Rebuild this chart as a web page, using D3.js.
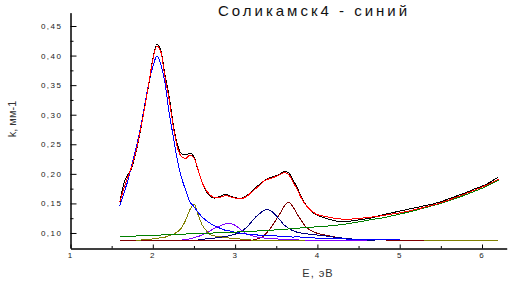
<!DOCTYPE html>
<html>
<head>
<meta charset="utf-8">
<script src="https://cdn.jsdelivr.net/npm/d3@7"></script>
<style>
body { margin: 0; background: #fff; }
text { font-family: "Liberation Sans", Arial, sans-serif; }
</style>
</head>
<body>
<svg width="508" height="282"></svg>
<script>
// photon energy grid, eV
const energy = [
  1.60, 1.65, 1.70, 1.75, 1.80, 1.85, 1.90, 1.95, 2.00, 2.05,
  2.10, 2.15, 2.20, 2.25, 2.30, 2.35, 2.40, 2.45, 2.50, 2.55,
  2.60, 2.65, 2.70, 2.75, 2.80, 2.85, 2.90, 2.95, 3.00, 3.05,
  3.10, 3.15, 3.20, 3.25, 3.30, 3.35, 3.40, 3.45, 3.50, 3.55,
  3.60, 3.65, 3.70, 3.75, 3.80, 3.85, 3.90, 3.95, 4.00,
  4.1, 4.2, 4.3, 4.4, 4.5, 4.6, 4.7, 4.8, 4.9, 5.0,
  5.1, 5.2, 5.3, 5.4, 5.5, 5.6, 5.7, 5.8, 5.9, 6.0,
  6.1, 6.2
];

// measured absorption (black)
const measured = [
  0.152, 0.185, 0.199, 0.212, 0.239, 0.273, 0.312, 0.350, 0.394, 0.419,
  0.407, 0.366, 0.330, 0.282, 0.249, 0.234, 0.232, 0.235, 0.229, 0.206,
  0.186, 0.170, 0.162, 0.159, 0.161, 0.164, 0.165, 0.162, 0.160, 0.158,
  0.160, 0.164, 0.170, 0.177, 0.182, 0.188, 0.192, 0.195, 0.197, 0.200,
  0.204, 0.202, 0.190, 0.178, 0.162, 0.150, 0.141, 0.134, 0.130,
  0.125, 0.121, 0.119, 0.120, 0.122, 0.124, 0.127, 0.131, 0.134, 0.137,
  0.140, 0.143, 0.146, 0.149, 0.153, 0.158, 0.163, 0.168, 0.174, 0.179,
  0.186, 0.195
];

// sum of components (red)
const fit = [
  0.153, 0.176, 0.196, 0.215, 0.241, 0.274, 0.311, 0.352, 0.393, 0.416,
  0.405, 0.362, 0.325, 0.279, 0.244, 0.229, 0.226, 0.232, 0.227, 0.207,
  0.185, 0.172, 0.164, 0.160, 0.160, 0.162, 0.163, 0.161, 0.159, 0.158,
  0.159, 0.163, 0.169, 0.175, 0.181, 0.188, 0.191, 0.193, 0.196, 0.199,
  0.202, 0.199, 0.187, 0.175, 0.160, 0.149, 0.141, 0.135, 0.131,
  0.128, 0.125, 0.1235, 0.1235, 0.1245, 0.126, 0.1275, 0.1295, 0.132, 0.134,
  0.1368, 0.140, 0.1435, 0.147, 0.151, 0.156, 0.161, 0.1665, 0.172, 0.1775,
  0.184, 0.1908
];

// background (green)
const background = [
  0.0937, 0.094, 0.0943, 0.0946, 0.0949, 0.0952, 0.0955, 0.0958, 0.0961, 0.0964,
  0.0966, 0.0969, 0.0971, 0.0974, 0.0977, 0.0979, 0.0982, 0.0985, 0.0987, 0.099,
  0.0992, 0.0995, 0.0998, 0.100, 0.1003, 0.1006, 0.1009, 0.1012, 0.1015, 0.1018,
  0.1021, 0.1024, 0.1028, 0.1032, 0.1036, 0.104, 0.1044, 0.1048, 0.1053, 0.1058,
  0.1063, 0.1068, 0.1074, 0.108, 0.1085, 0.109, 0.1095, 0.110, 0.1105,
  0.1115, 0.1128, 0.1143, 0.1163, 0.1187, 0.1212, 0.1235, 0.1258, 0.1288, 0.1318,
  0.1352, 0.1387, 0.1425, 0.1463, 0.150, 0.1545, 0.1593, 0.1645, 0.170, 0.1755,
  0.182, 0.1896
];

// band near 2.05 eV (blue)
const band205 = [
  0.146, 0.168, 0.190, 0.218, 0.246, 0.278, 0.315, 0.353, 0.381, 0.399,
  0.384, 0.352, 0.302, 0.262, 0.222, 0.193, 0.172, 0.153, 0.1445, 0.135,
  0.127, 0.121, 0.116, 0.112, 0.109, 0.106, 0.104, 0.103, 0.101, 0.100,
  0.099, 0.098, 0.097, 0.097, 0.096, 0.0965, 0.096, 0.095, 0.095, 0.094,
  0.094, 0.094, 0.093, 0.0935, 0.093, 0.092, 0.092, 0.092, 0.091,
  0.091, 0.090, 0.090, 0.0895, 0.0893, 0.0893, 0.0893, 0.0893, 0.0893, 0.0893,
  null, null, null, null, null, null, null, null, null, null,
  null, null
];

// band near 2.49 eV (olive)
const band249 = [
  null, null, null, null, 0.0875, 0.088, 0.0885, 0.089, 0.090, 0.091,
  0.092, 0.093, 0.0955, 0.098, 0.102, 0.109, 0.122, 0.139, 0.149, 0.131,
  0.1135, 0.104, 0.097, 0.095, 0.094, 0.093, 0.092, 0.091, 0.0905, 0.090,
  0.089, 0.0885, 0.088, 0.0878, 0.0877, 0.0876, 0.0876, 0.0876, 0.0876, 0.0876,
  0.0876, 0.0876, 0.0876, 0.0876, 0.0876, 0.0876, null, null, null,
  null, null, null, null, null, null, null, null, null, null,
  null, null, 0.0866, 0.0866, 0.0866, 0.0866, 0.0866, 0.0866, 0.0866, 0.0866,
  0.0866, 0.0866
];

// band near 2.92 eV (violet)
const band292 = [
  null, null, null, null, null, null, null, null, null, null,
  null, null, null, null, null, 0.088, 0.089, 0.090, 0.092, 0.094,
  0.0965, 0.100, 0.104, 0.108, 0.111, 0.114, 0.1156, 0.1155, 0.113, 0.108,
  0.102, 0.098, 0.0955, 0.0935, 0.0925, 0.0915, 0.091, 0.0905, 0.090, 0.0895,
  0.089, 0.0888, 0.0885, 0.0883, 0.088, 0.0878, 0.0876, 0.0876, 0.0876,
  0.0876, 0.0876, 0.0876, 0.0876, 0.0876, 0.0876, null, null, null, null,
  null, null, null, null, null, null, null, null, null, null,
  null, null
];

// band near 3.38 eV (navy)
const band338 = [
  null, null, null, null, null, null, null, null, null, null,
  null, null, null, null, null, null, null, null, null, 0.0885,
  0.089, 0.090, 0.0905, 0.0915, 0.0925, 0.0935, 0.0945, 0.096, 0.098, 0.1005,
  0.105, 0.111, 0.119, 0.127, 0.133, 0.138, 0.1395, 0.136, 0.129, 0.121,
  0.113, 0.108, 0.104, 0.1015, 0.100, 0.099, 0.098, 0.097, 0.0965,
  0.095, 0.093, 0.0915, 0.090, 0.089, 0.088, 0.0876, null, null, null,
  null, null, null, null, null, null, null, null, null, null,
  null, null
];

// band near 3.64 eV (dark red)
const band364 = [
  0.0878, 0.0878, 0.0878, 0.0878, 0.0878, 0.0878, 0.0878, 0.0878, 0.0878, 0.0878,
  0.0878, 0.0878, 0.0878, 0.0878, 0.0878, 0.0878, 0.0878, 0.0878, 0.0878, 0.0878,
  0.0878, 0.0878, 0.0878, 0.0878, 0.0878, 0.0878, 0.0878, 0.0878, 0.0878, 0.0878,
  0.0878, 0.0878, 0.0878, 0.089, 0.0915, 0.0955, 0.103, 0.112, 0.123, 0.134,
  0.146, 0.152, 0.145, 0.133, 0.122, 0.112, 0.106, 0.102, 0.0995,
  0.0962, 0.0935, 0.0912, 0.090, 0.0893, 0.0888, 0.0884, 0.0882, 0.088, 0.088,
  0.088, 0.088, 0.088, 0.088, 0.088, 0.088, 0.088, 0.088, 0.088, 0.088,
  0.088, 0.088
];

const yTicks = [0.10, 0.15, 0.20, 0.25, 0.30, 0.35, 0.40, 0.45];
const xTicks = [1, 2, 3, 4, 5, 6];

// draw order: components first, then background, data, fit
const series = [
  {values: band364, color: "#800000"},
  {values: band338, color: "#000080"},
  {values: band292, color: "#8000ff"},
  {values: band249, color: "#808000"},
  {values: band205, color: "#0000ff"},
  {values: background, color: "#008000"},
  {values: measured, color: "#000000"},
  {values: fit, color: "#ff0000"}
];

let svg = d3.select("svg");

let x = d3.scaleLinear().domain([1, 6.3]).range([70.5, 506.7]);
let y = d3.scaleLinear().domain([0.0746, 0.4725]).range([248, 12.7]);

let line = d3.line()
  .defined(d => d[1] !== null)
  .x(d => x(d[0]))
  .y(d => y(d[1]))
  .curve(d3.curveMonotoneX);

series.forEach(s => {
  svg.append("path")
    .datum(energy.map((e, i) => [e, s.values[i]]))
    .attr("d", line)
    .attr("shape-rendering", "crispEdges")
    .style("fill", "none")
    .style("stroke", s.color)
    .style("stroke-width", "1px");
});

// y axis, ticks point inward
let yMinor = d3.range(0.125, 0.47, 0.05);
svg.append("g").attr("transform", "translate(70.5,0)")
  .call(d3.axisLeft(y).tickValues(yMinor).tickSize(-3).tickSizeOuter(0).tickFormat(""));
let yAx = svg.append("g").attr("transform", "translate(70.5,0)")
  .call(d3.axisLeft(y).tickValues(yTicks).tickSize(-6).tickSizeOuter(0).tickPadding(8)
    .tickFormat(d => d3.format(".2f")(d).replace(".", ",")));
yAx.selectAll("text")
  .style("font-size", "8px")
  .style("letter-spacing", "1.5px")
  .attr("fill", "#222");

// x axis
let xMinor = [1.5, 2.5, 3.5, 4.5, 5.5];
svg.append("g").attr("transform", "translate(0,248.5)")
  .call(d3.axisBottom(x).tickValues(xMinor).tickSize(-2.5).tickSizeOuter(0).tickFormat(""));
let xAx = svg.append("g").attr("transform", "translate(0,248.5)")
  .call(d3.axisBottom(x).tickValues(xTicks).tickSize(-4).tickSizeOuter(0).tickPadding(4)
    .tickFormat(d3.format("d")));
xAx.selectAll("text")
  .attr("x", -1)
  .style("font-size", "8px")
  .attr("fill", "#222");

svg.selectAll(".domain, .tick line").attr("stroke", "#000");

// titles
svg.append("text")
  .attr("x", 314).attr("y", 16)
  .attr("text-anchor", "middle")
  .style("font-size", "15px")
  .style("letter-spacing", "3px")
  .attr("fill", "#111")
  .text("Соликамск4 - синий");

svg.append("text")
  .attr("x", 318).attr("y", 277)
  .attr("text-anchor", "middle")
  .style("font-size", "11px")
  .style("letter-spacing", "1px")
  .attr("fill", "#333")
  .text("E, эВ");

svg.append("text")
  .attr("transform", "translate(16,119) rotate(-90)")
  .attr("text-anchor", "middle")
  .style("font-size", "11px")
  .attr("fill", "#333")
  .text("k, мм-1");
</script>
</body>
</html>
